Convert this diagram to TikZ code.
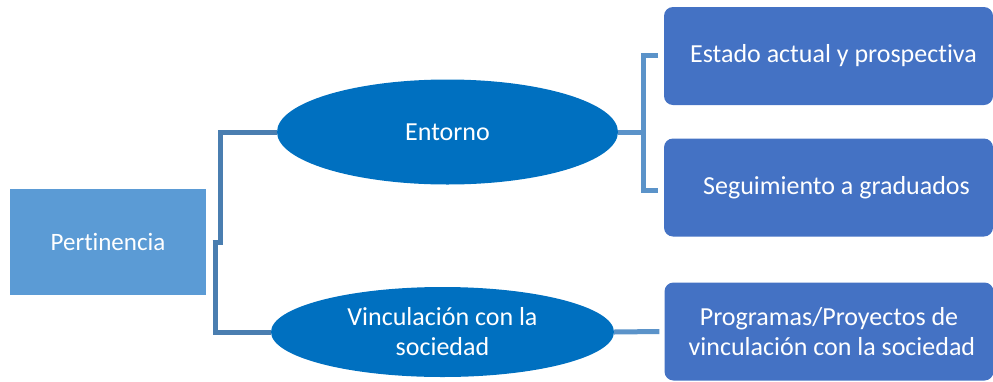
\documentclass[tikz,border=0pt]{standalone}
\usetikzlibrary{shapes.geometric}
\usepackage{fontspec}
\setmainfont{Carlito}[Ligatures=NoCommon]
\definecolor{rootc}{HTML}{5B9BD5}
\definecolor{ellc}{HTML}{0070C0}
\definecolor{boxc}{HTML}{4472C4}
\definecolor{lineA}{HTML}{4A7EB0}
\definecolor{lineB}{HTML}{5B93C9}
\begin{document}
\begin{tikzpicture}[x=1pt,y=-1pt,
  txt/.style={text=white,font=\fontsize{26}{30}\selectfont,align=center},
  root/.style={txt,font=\fontsize{25}{30}\selectfont,fill=rootc,minimum width=196pt,minimum height=106pt,inner sep=0pt},
  ell/.style={txt,ellipse,fill=ellc,inner sep=0pt},
  leaf/.style={txt,fill=boxc,rounded corners=9pt,minimum width=329pt,minimum height=98pt,inner sep=0pt},
  connA/.style={draw=lineA,line width=5pt},
  connB/.style={draw=lineB,line width=5pt}]
\useasboundingbox (0,0) rectangle (993,381);
\node[root] (p) at (108,242) {Pertinencia};
\node[ell,minimum width=341pt,minimum height=105pt] (e) at (447.5,132) {Entorno};
\node[ell,minimum width=343pt,minimum height=90pt] (v) at (442.5,332) {Vinculación con la\\sociedad};
\node[leaf] (s1) at (828.5,56) {\hspace*{10pt}Estado actual y prospectiva};
\node[leaf] (s2) at (828.5,187.5) {\hspace*{16pt}Seguimiento a graduados};
\node[leaf] (s3) at (829,331.5) {Programas/Proyectos de\\\hspace*{6pt}vinculación con la sociedad};
\coordinate (j) at (213,242);
\coordinate (k) at (643,132);
\coordinate (t1) at (658,55);
\coordinate (t2) at (658,190);
\draw[connA] (j) -- ++(7,0) |- (e.west);
\draw[connA] ([xshift=-0.5pt]j) -- ++(2.5,0) |- (v.west);
\draw[connB] (e.east) -- (k);
\draw[connB] (t1) -| (k) |- (t2);
\draw[connB] (v.east) -- ([xshift=-5pt]s3.west);
\end{tikzpicture}
\end{document}
